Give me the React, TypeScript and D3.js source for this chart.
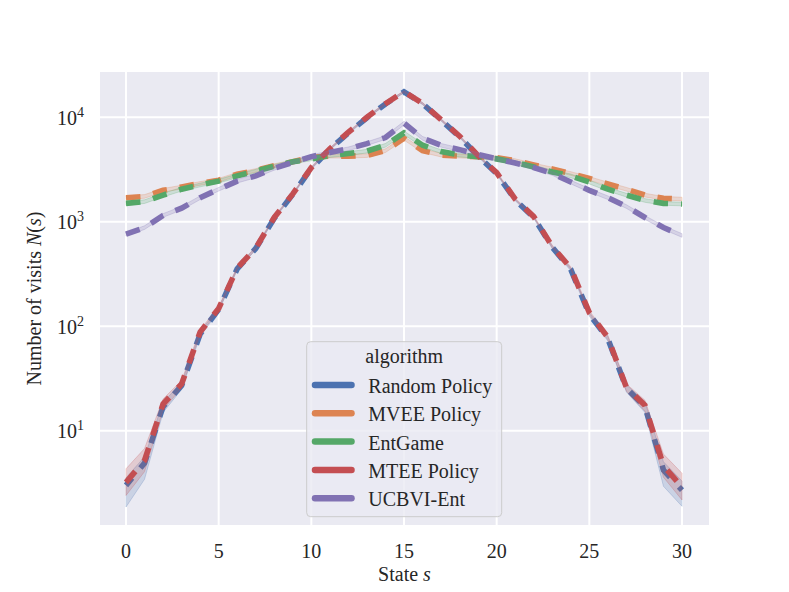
import React from 'react';
import * as d3 from 'd3';

const states = d3.range(0, 31);

const randomPolicy = [3.0, 4.9, 17, 27, 84, 145, 355, 555, 1080, 1830, 3250, 4950, 7100, 9900, 13400, 17500,
    13500, 9400, 6500, 4250, 2900, 1620, 1100, 570, 350, 130, 76, 25.5, 17, 4.2, 2.7];
const mveePolicy = [1700, 1750, 2000, 2150, 2330, 2500, 2850, 3100, 3450, 3750, 4150, 4250, 4250, 4300, 4800, 6300,
    4800, 4350, 4250, 4200, 4100, 3850, 3500, 3200, 2900, 2600, 2300, 2050, 1800, 1680, 1650];
const entGame = [1500, 1560, 1800, 2050, 2250, 2450, 2750, 3050, 3400, 3750, 4000, 4300, 4500, 4750, 5400, 7100,
    5400, 4700, 4350, 4200, 4000, 3700, 3350, 3000, 2750, 2400, 2050, 1800, 1600, 1500, 1480];
const mteePolicy = [3.2, 5.2, 18, 28, 88, 148, 360, 560, 1100, 1850, 3300, 5000, 7200, 10000, 13500, 17600,
    13600, 9500, 6600, 4300, 2950, 1650, 1120, 580, 360, 135, 78, 26, 17.5, 4.6, 2.9];
const ucbviEnt = [760, 880, 1150, 1350, 1700, 2050, 2450, 2750, 3250, 3700, 4200, 4600, 5000, 5600, 6400, 8800,
    6300, 5400, 4900, 4400, 4000, 3650, 3300, 2900, 2400, 2000, 1700, 1400, 1100, 880, 740];

// confidence band below / above the mean, as a fraction of the mean
const randomLow = [0.38, 0.3, 0.12, 0.08, 0.05, 0.04, 0.03, 0.03, 0.02, 0.02, 0.02, 0.02, 0.02, 0.02, 0.02, 0.02,
    0.02, 0.02, 0.02, 0.02, 0.02, 0.02, 0.02, 0.03, 0.03, 0.04, 0.05, 0.08, 0.12, 0.3, 0.3];
const randomHigh = [0.18, 0.15, 0.1, 0.07, 0.05, 0.04, 0.03, 0.03, 0.02, 0.02, 0.02, 0.02, 0.02, 0.02, 0.02, 0.02,
    0.02, 0.02, 0.02, 0.02, 0.02, 0.02, 0.02, 0.03, 0.03, 0.04, 0.05, 0.08, 0.12, 0.2, 0.22];
const mteeLow = [0.25, 0.22, 0.12, 0.08, 0.05, 0.04, 0.03, 0.03, 0.02, 0.02, 0.02, 0.02, 0.02, 0.02, 0.02, 0.02,
    0.02, 0.02, 0.02, 0.02, 0.02, 0.02, 0.02, 0.03, 0.03, 0.04, 0.05, 0.08, 0.12, 0.22, 0.25];
const mteeHigh = [0.35, 0.3, 0.12, 0.08, 0.05, 0.04, 0.03, 0.03, 0.02, 0.02, 0.02, 0.02, 0.02, 0.02, 0.02, 0.02,
    0.02, 0.02, 0.02, 0.02, 0.02, 0.02, 0.02, 0.03, 0.03, 0.04, 0.05, 0.08, 0.12, 0.3, 0.35];
const flatBand = [0.04, 0.04, 0.04, 0.04, 0.04, 0.04, 0.04, 0.04, 0.04, 0.04, 0.04, 0.04, 0.04, 0.04, 0.04, 0.04,
    0.04, 0.04, 0.04, 0.04, 0.04, 0.04, 0.04, 0.04, 0.04, 0.04, 0.04, 0.04, 0.04, 0.04, 0.04];

const xTicks = [0, 5, 10, 15, 20, 25, 30];
const yTicks = [10, 100, 1000, 10000];

const series = [
    { name: 'Random Policy', values: randomPolicy, low: randomLow, high: randomHigh, color: '#4C72B0', offset: 5 },
    { name: 'MVEE Policy', values: mveePolicy, low: flatBand, high: flatBand, color: '#DD8452', offset: 0 },
    { name: 'EntGame', values: entGame, low: flatBand, high: flatBand, color: '#55A868', offset: 0 },
    { name: 'MTEE Policy', values: mteePolicy, low: mteeLow, high: mteeHigh, color: '#C44E52', offset: 0 },
    { name: 'UCBVI-Ent', values: ucbviEnt, low: flatBand, high: flatBand, color: '#8172B3', offset: 0 },
];

const W = 789;
const H = 592;
const plot = { left: 100, right: 709, top: 72, bottom: 525 };
const FONT = '"Liberation Serif", "DejaVu Serif", serif';
const TEXT = '#262626';
const FS = 20;

export default function App() {
    const x = d3.scaleLinear().domain([0, 30]).range([126, 682]);
    const y = d3.scaleLog().domain([1, 10000]).range([535.2, 117.3]);

    const line = d3.line<number>()
        .x((_, i) => x(states[i]))
        .y(d => y(d));

    const area = (vals: number[], low: number[], high: number[]) =>
        d3.area<number>()
            .x((_, i) => x(states[i]))
            .y0((d, i) => y(d * (1 - low[i])))
            .y1((d, i) => y(d * (1 + high[i])))(vals) || '';

    const cx = (plot.left + plot.right) / 2;
    const cy = (plot.top + plot.bottom) / 2;

    const legend = { x: 306.7, y: 341.7, w: 195, h: 175 };

    return (
        <svg width={W} height={H} style={{ position: 'absolute', left: 0, top: 0, background: '#fff' }}
            fontFamily={FONT}>
            <defs>
                <clipPath id="plotClip">
                    <rect x={plot.left} y={plot.top} width={plot.right - plot.left} height={plot.bottom - plot.top} />
                </clipPath>
            </defs>
            <rect x={plot.left} y={plot.top} width={plot.right - plot.left} height={plot.bottom - plot.top} fill="#EAEAF2" />
            {xTicks.map(t => (
                <line key={'gx' + t} x1={x(t)} x2={x(t)} y1={plot.top} y2={plot.bottom} stroke="#fff" strokeWidth={2} />
            ))}
            {yTicks.map(t => (
                <line key={'gy' + t} x1={plot.left} x2={plot.right} y1={y(t)} y2={y(t)} stroke="#fff" strokeWidth={2} />
            ))}

            <g clipPath="url(#plotClip)">
                {series.map(s => (
                    <g key={s.name}>
                        <path d={line(s.values) || ''} fill="none" stroke={s.color} strokeWidth={5.6}
                            strokeDasharray="14.5,13" strokeDashoffset={s.offset} />
                        <path d={area(s.values, s.low, s.high)} fill={s.color} fillOpacity={0.2}
                            stroke={s.color} strokeOpacity={0.25} strokeWidth={1} />
                    </g>
                ))}
            </g>

            {xTicks.map(t => (
                <text key={'tx' + t} x={x(t)} y={558} textAnchor="middle" fontSize={FS} fill={TEXT}>{t}</text>
            ))}
            {yTicks.map(t => (
                <text key={'ty' + t} x={84} y={y(t) + 7.7} textAnchor="end" fontSize={FS} fill={TEXT}>
                    10<tspan dy={-8} fontSize={14}>{Math.round(Math.log10(t))}</tspan>
                </text>
            ))}

            <text x={cx} y={581} textAnchor="middle" fontSize={FS} fill={TEXT}>
                State <tspan fontStyle="italic">s</tspan>
            </text>
            <text transform={`translate(41, ${cy}) rotate(-90)`} textAnchor="middle" fontSize={FS} fill={TEXT}>
                Number of visits <tspan fontStyle="italic">N</tspan>(<tspan fontStyle="italic">s</tspan>)
            </text>

            <g>
                <rect x={legend.x} y={legend.y} width={legend.w} height={legend.h} rx={4} ry={4}
                    fill="#EAEAF2" fillOpacity={0.8} stroke="#CCCCCC" strokeWidth={1} />
                <text x={legend.x + legend.w / 2} y={363.3} textAnchor="middle" fontSize={FS} fill={TEXT}>algorithm</text>
                {series.map((s, i) => {
                    const ly = 385 + i * 28.3;
                    return (
                        <g key={'lg' + s.name}>
                            <line x1={315} x2={351.5} y1={ly} y2={ly} stroke={s.color} strokeWidth={6.5} strokeLinecap="round" />
                            <text x={368.3} y={ly + 8} fontSize={FS} fill={TEXT}>{s.name}</text>
                        </g>
                    );
                })}
            </g>
        </svg>
    );
}
